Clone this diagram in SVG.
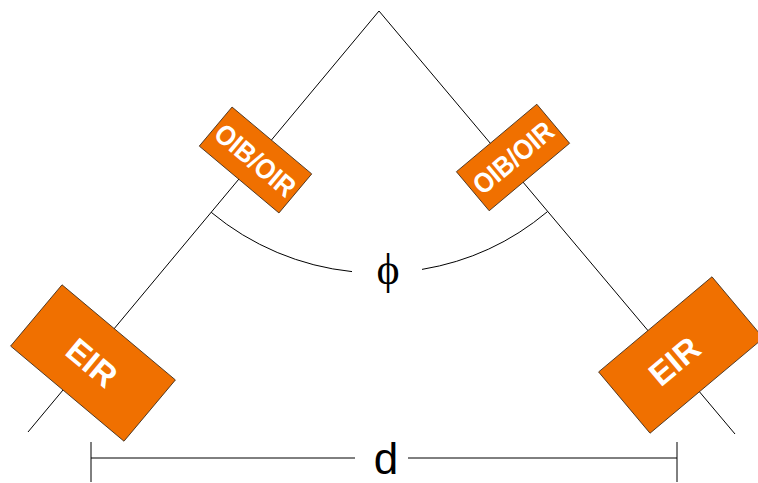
<svg xmlns="http://www.w3.org/2000/svg" width="758" height="483" viewBox="0 0 758 483">
<style>
.ln{fill:none;stroke:#000;stroke-width:1}
.box{fill:#F07000;stroke:#3a2a1a;stroke-width:0.8}
.lbl{fill:#fff;font-family:"Liberation Sans",Arial,sans-serif;font-weight:bold;text-anchor:middle}
</style>
<rect width="758" height="483" fill="#fff"/>
<g id="connectors">
<path class="ln" d="M379,11 L28,432"/>
<path class="ln" d="M379,11 L735,434"/>
<path class="ln" d="M211.2,212.3 A262,262 0 0 0 352,271.6"/>
<path class="ln" d="M422,269.4 A262,262 0 0 0 547.5,211.6"/>
<path class="ln" d="M91,458 H355 M408,458 H677 M91,442 V482 M677,442 V482"/>
</g>
<g id="oib-left" transform="translate(255.5,160) rotate(40)">
<rect class="box" x="-52" y="-25.5" width="104" height="51"/>
<text class="lbl" x="0" y="10" font-size="28" textLength="96" lengthAdjust="spacingAndGlyphs">OIB/OIR</text>
</g>
<g id="oib-right" transform="translate(513,157.5) rotate(-40)">
<rect class="box" x="-52.5" y="-25.5" width="105" height="51"/>
<text class="lbl" x="0" y="10" font-size="28" textLength="96" lengthAdjust="spacingAndGlyphs">OIB/OIR</text>
</g>
<g id="eir-left" transform="translate(93,363) rotate(40)">
<rect class="box" x="-74" y="-40" width="148" height="80"/>
<text class="lbl" x="-1" y="12" font-size="33">EIR</text>
</g>
<g id="eir-right" transform="translate(681,355) rotate(-40)">
<rect class="box" x="-74" y="-40" width="148" height="80"/>
<text class="lbl" x="-9" y="12" font-size="33">EIR</text>
</g>
<g id="labels">
<text x="388" y="284" font-family="Liberation Serif,serif" font-size="44" text-anchor="middle">ϕ</text>
<text x="386" y="474" font-family="Liberation Sans,Arial,sans-serif" font-size="44" text-anchor="middle">d</text>
</g>
</svg>
